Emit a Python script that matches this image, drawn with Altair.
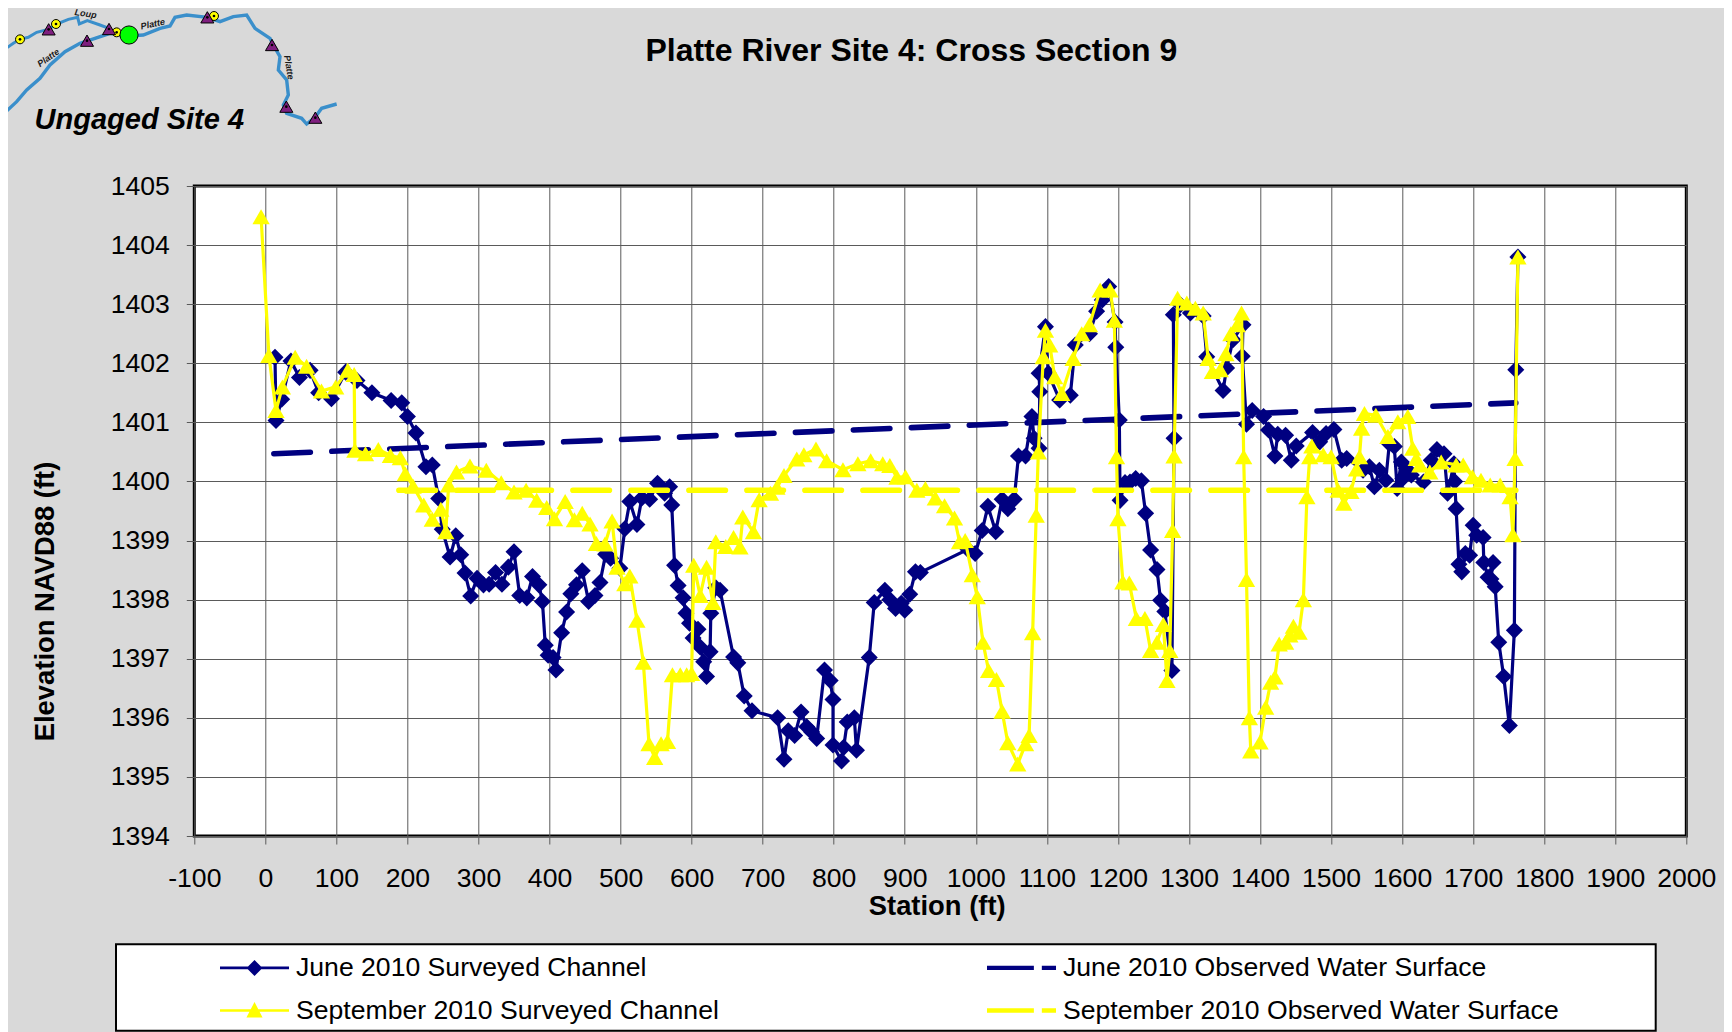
import altair as alt

june_x = [13.6,15,23,36,48,63,75,93,113,129,150,177,192,200,212,226,235,244,249,260,268,275,281,289,298,307,315,324,333,342,350,358,368,376,385,390,394,398,405,409,417,424,430,438,446,455,464,471,479,486,499,506,513,523,530,541,552,562,569,572,576,581,588,592,597,609,602,612,617,621,626,627,634,640,659,665,674,685,721,730,736,745,754,762,769,776,787,795,799,799,811,814,819,829,832,850,857,872,879,887,895,900,907,915,922,989,999,1009,1017,1028,1037,1045,1054,1060,1070,1079,1082,1089,1090,1089,1098,1102,1118,1133,1140,1160,1170,1178,1187,1196,1197,1202,1203,1210,1217,1225,1233,1239,1246,1255,1260,1266,1276,1279,1278,1288,1302,1320,1325,1348,1353,1362,1376,1375,1381,1389,1405,1412,1421,1425,1436,1444,1451,1474,1484,1493,1504,1515,1522,1545,1554,1561,1568,1577,1582,1589,1593,1599,1601,1606,1613,1630,1641,1649,1659,1664,1673,1674,1676,1680,1684,1689,1695,1700,1705,1714,1715,1721,1728,1725,1731,1736,1743,1751,1758,1760,1763]
june_y = [1402.1,1401.03,1401.39,1402.04,1401.76,1401.88,1401.5,1401.4,1401.85,1401.71,1401.5,1401.37,1401.33,1401.1,1400.82,1400.25,1400.28,1399.71,1399.19,1398.72,1399.08,1398.76,1398.45,1398.06,1398.36,1398.25,1398.26,1398.46,1398.26,1398.55,1398.81,1398.07,1398.03,1398.39,1398.25,1397.97,1397.23,1397.06,1397.02,1396.81,1397.44,1397.79,1398.1,1398.25,1398.49,1397.97,1398.07,1398.29,1398.77,1398.7,1398.53,1399.2,1399.66,1399.27,1399.72,1399.7,1399.97,1399.8,1399.91,1399.6,1398.58,1398.24,1398.03,1397.77,1397.6,1397.5,1397.35,1397.2,1396.95,1396.7,1397.12,1397.77,1398.2,1398.16,1397.03,1396.93,1396.37,1396.12,1396.0,1395.3,1395.78,1395.7,1396.1,1395.85,1395.76,1395.65,1396.81,1396.63,1396.31,1395.54,1395.27,1395.5,1395.93,1396.0,1395.45,1397.02,1397.95,1398.16,1398.0,1397.85,1397.94,1397.82,1398.09,1398.47,1398.46,1398.85,1398.78,1399.17,1399.58,1399.15,1399.7,1399.54,1399.7,1400.43,1400.43,1401.1,1400.73,1400.56,1401.52,1401.83,1402.62,1401.83,1401.38,1401.46,1402.31,1402.5,1402.88,1403.07,1403.3,1402.7,1402.27,1401.04,1399.68,1399.98,1399.99,1400.05,1400.01,1399.46,1398.84,1398.51,1397.99,1397.8,1396.8,1400.73,1402.82,1402.99,1402.85,1402.8,1402.11,1401.54,1401.92,1402.4,1402.65,1402.12,1400.97,1401.2,1401.1,1400.87,1400.43,1400.8,1400.78,1400.36,1400.6,1400.83,1400.67,1400.81,1400.88,1400.36,1400.39,1400.19,1400.25,1399.91,1400.19,1400.02,1400.64,1400.59,1399.88,1400.33,1400.05,1400.22,1400.11,1399.99,1400.36,1400.54,1400.47,1399.8,1400.3,1400.0,1399.54,1398.6,1398.47,1398.78,1398.75,1399.26,1399.09,1399.05,1398.63,1398.38,1398.63,1398.35,1398.22,1397.28,1396.7,1395.87,1397.48,1401.89,1403.8]

sept_x = [-6,5,15,24,42,58,79,99,116,125,126,141,159,176,190,197,208,223,235,247,254,258,269,288,311,332,350,367,382,396,407,422,435,446,457,466,478,488,495,506,513,523,532,540,548,557,566,573,584,593,600,603,612,621,630,634,648,659,668,672,687,695,711,720,730,748,758,775,790,813,834,852,869,879,889,901,917,929,943,956,970,977,985,995,1002,1010,1018,1029,1037,1045,1059,1070,1075,1080,1085,1088,1095,1098,1104,1111,1121,1137,1149,1160,1175,1189,1195,1198,1200,1207,1216,1226,1238,1246,1255,1264,1269,1273,1277,1279,1284,1297,1309,1320,1327,1333,1344,1352,1359,1368,1374,1377,1381,1385,1387,1400,1408,1415,1421,1427,1436,1442,1447,1455,1461,1466,1470,1473,1489,1500,1510,1518,1528,1536,1540,1543,1547,1563,1580,1594,1608,1615,1620,1625,1639,1655,1676,1686,1699,1711,1724,1738,1752,1756,1759,1763]
sept_y = [1404.48,1402.13,1401.2,1401.6,1402.1,1401.95,1401.53,1401.6,1401.88,1401.81,1400.53,1400.47,1400.54,1400.44,1400.4,1400.13,1399.92,1399.6,1399.36,1399.53,1399.15,1399.94,1400.16,1400.26,1400.19,1399.98,1399.82,1399.85,1399.68,1399.56,1399.37,1399.66,1399.35,1399.46,1399.28,1398.95,1398.94,1399.33,1398.55,1398.27,1398.4,1397.65,1396.94,1395.56,1395.33,1395.56,1395.6,1396.73,1396.73,1396.73,1396.75,1398.58,1398.07,1398.55,1397.95,1398.98,1398.9,1399.05,1398.89,1399.4,1399.15,1399.69,1399.8,1399.9,1400.1,1400.38,1400.45,1400.55,1400.35,1400.2,1400.3,1400.35,1400.3,1400.27,1400.07,1400.08,1399.85,1399.88,1399.72,1399.59,1399.38,1398.98,1399.0,1398.42,1398.05,1397.28,1396.8,1396.65,1396.11,1395.58,1395.22,1395.56,1395.7,1397.44,1399.43,1400.5,1402.11,1402.56,1402.31,1401.77,1401.49,1402.08,1402.5,1402.65,1403.24,1403.24,1402.73,1400.42,1399.37,1398.3,1398.28,1397.68,1397.68,1397.14,1397.28,1397.58,1396.63,1397.14,1399.17,1400.43,1403.1,1403.02,1402.93,1402.85,1402.08,1401.86,1401.89,1402.16,1402.5,1402.65,1402.85,1400.42,1398.34,1396.0,1395.44,1395.59,1396.18,1396.6,1396.69,1397.25,1397.28,1397.4,1397.55,1397.45,1398.0,1399.74,1400.42,1400.6,1400.45,1400.42,1399.85,1399.63,1399.83,1400.21,1400.42,1400.9,1401.15,1401.12,1400.76,1401.01,1401.1,1400.56,1400.39,1400.28,1400.16,1400.33,1400.28,1400.28,1400.08,1400.02,1399.94,1399.94,1399.74,1399.1,1400.39,1403.8]

june_ws_x = [12, 1760]
june_ws_y = [1400.47, 1401.33]
sept_ws_x = [188, 1760]
sept_ws_y = [1399.85, 1399.85]

x_ticks = list(range(-100, 2001, 100))
y_ticks = list(range(1394, 1406))

series_names = ["June 2010 Surveyed Channel", "September 2010 Surveyed Channel",
                "June 2010 Observed Water Surface", "September 2010 Observed Water Surface"]
series_colors = ["#000080", "#ffff00", "#000080", "#ffff00"]

# inset map, in hundredths of the map picture (3x its pixels)
loup_mx = [18,40,60,85,110,145,170,205,233,238,262,300,327]
loup_my = [145,130,118,112,97,88,72,58,52,72,62,75,85]
platte_mx = [18,50,80,120,150,195,240,285,330,385,430,480,510,525,560,622,660,700,740,765,810,820,840,835,860,865,850,860,905,920,945,965,1010]
platte_my = [335,305,270,235,195,155,130,115,100,108,105,85,78,52,45,52,65,50,45,85,115,135,170,210,240,285,315,340,355,372,352,325,312]
gauge_mx = [146,261,327,622,816,859,946]
gauge_my = [88,122,87,52,135,320,353]
yellow_mx = [60,168,350,642]
yellow_my = [118,72,97,48]
site_mx, site_my = [387], [105]
map_labels = ["Loup", "Platte", "Platte", "Platte"]
map_label_mx = [257, 145, 458, 867]
map_label_my = [41, 173, 72, 202]
map_label_angle = [8, 325, 348, 80]

PLOT_L, PLOT_T, PLOT_W, PLOT_H = 194.3, 186.0, 1492.0, 650.0
FONT = "Liberation Sans"
FS = 26.6

def mx(v):
    return (v / 3 - PLOT_L) * 2100 / PLOT_W - 100
def my(v):
    return 1405 - (v / 3 - PLOT_T) * 11 / PLOT_H

XS = alt.X("x:Q", scale=alt.Scale(domain=[-100, 2000], nice=False, zero=False),
           axis=alt.Axis(values=x_ticks, labelExpr="toString(datum.value)", title="Station (ft)", grid=True,
                         gridColor="#5a5a5a", gridWidth=1, tickColor="#5a5a5a", tickWidth=1, tickSize=8,
                         domain=False, labelFont=FONT, labelFontSize=FS, labelColor="#000000",
                         labelPadding=21, labelOverlap=False, labelFlush=False, titleFont=FONT, titleFontSize=27.4,
                         titleFontWeight="bold", titleColor="#000000", titleX=742.4, titleY=70,
                         titleBaseline="middle", titleAlign="center", titleAnchor="start"))
YS = alt.Y("y:Q", scale=alt.Scale(domain=[1394, 1405], nice=False, zero=False),
           axis=alt.Axis(values=y_ticks, format="d", title="Elevation NAVD88 (ft)", grid=True,
                         gridColor="#5a5a5a", gridWidth=1, tickColor="#5a5a5a", tickWidth=1, tickSize=8,
                         domain=False, labelFont=FONT, labelFontSize=FS, labelColor="#000000",
                         labelPadding=17, labelOverlap=False, titleFont=FONT, titleFontSize=27.4,
                         titleFontWeight="bold", titleColor="#000000", titleX=-149, titleY=415,
                         titleAngle=270, titleBaseline="middle", titleAlign="center", titleAnchor="start"))

def rows(xs, ys):
    return alt.Data(values=[{"x": a, "y": b, "i": k} for k, (a, b) in enumerate(zip(xs, ys))])

def line(xs, ys, color, width, **kw):
    return alt.Chart(rows(xs, ys)).mark_line(color=color, strokeWidth=width, **kw).encode(
        x=XS, y=YS, order="i:Q")

def pts(xs, ys, shape, color, size, **kw):
    return alt.Chart(rows(xs, ys)).mark_point(shape=shape, filled=True, color=color, size=size, opacity=1, **kw).encode(
        x=XS, y=YS)

# legend: native legend carried by an empty layer with symbols holding line + marker
S = "M-1,-.0625H2.21V.0625H-1Z"
DIA = "M.605,-.37L.975,0L.605,.37L.235,0Z"
TRI = "M.605,-.40L.98,.33H.23Z"
D1 = "M-1,-.1H1.18V.1H-1Z"
D2 = "M1.55,-.1H2.21V.1H1.55Z"
legend_shapes = [S + DIA, S + TRI, D1 + D2, D1 + D2]
leg = alt.Legend(title=None, orient="none", legendX=25.7, legendY=760, columns=2, direction="vertical",
                 symbolSize=1849, labelFont=FONT, labelFontSize=FS, labelColor="#000000", labelLimit=700,
                 labelOffset=33, rowPadding=7, columnPadding=268, padding=0, symbolOpacity=1, symbolStrokeWidth=0,
                 zindex=1)
legend_layer = alt.Chart(alt.Data(values=[{"x": None, "y": None, "s": n} for n in series_names])).mark_point(
    filled=True, opacity=1, size=1849).encode(
    x=XS, y=YS,
    color=alt.Color("s:N", scale=alt.Scale(domain=series_names, range=series_colors), legend=leg),
    shape=alt.Shape("s:N", scale=alt.Scale(domain=series_names, range=legend_shapes), legend=leg))

legend_box = alt.Chart(alt.Data(values=[{"a": 1}])).mark_rect(
    fill="#ffffff", stroke="#000000", strokeWidth=2).encode(
    x=alt.value(116 - PLOT_L), x2=alt.value(1655.7 - PLOT_L),
    y=alt.value(944.3 - PLOT_T), y2=alt.value(1030.7 - PLOT_T))

# map inset
map_layers = [
    line([mx(v) for v in loup_mx], [my(v) for v in loup_my], "#3a8fcb", 3),
    line([mx(v) for v in platte_mx], [my(v) for v in platte_my], "#3a8fcb", 3.4),
    pts([mx(v) for v in yellow_mx], [my(v) for v in yellow_my], "circle", "#ffff00", 80, stroke="#000000", strokeWidth=1),
    pts([mx(v) for v in yellow_mx], [my(v) for v in yellow_my], "circle", "#000000", 7),
    pts([mx(v) for v in gauge_mx], [my(v) for v in gauge_my], "triangle-up", "#7f1f7f", 170, stroke="#000000", strokeWidth=1),
    pts([mx(v) for v in gauge_mx], [my(v) for v in gauge_my], "circle", "#000000", 7),
    pts([mx(v) for v in site_mx], [my(v) for v in site_my], "circle", "#00ff00", 330, stroke="#000000", strokeWidth=1),
]
for t, a, b, ang in zip(map_labels, map_label_mx, map_label_my, map_label_angle):
    map_layers.append(alt.Chart(alt.Data(values=[{"x": mx(a), "y": my(b), "t": t}])).mark_text(
        font=FONT, fontSize=9, fontStyle="italic", fontWeight="bold", angle=ang, color="#1a1a1a").encode(x=XS, y=YS, text="t:N"))
map_layers.append(alt.Chart(alt.Data(values=[{"x": mx(418), "y": my(361), "t": "Ungaged Site 4"}])).mark_text(
    font=FONT, fontSize=29, fontStyle="italic", fontWeight="bold", color="#000000").encode(x=XS, y=YS, text="t:N"))

chart = alt.layer(
    line(june_ws_x, june_ws_y, "#000080", 5.6, strokeDash=[36.5, 21.5], strokeCap="round"),
    line(june_x, june_y, "#000080", 3.2),
    pts(june_x, june_y, "diamond", "#000080", 290),
    line(sept_ws_x, sept_ws_y, "#ffff00", 5.6, strokeDash=[36.5, 21.5], strokeCap="round"),
    line(sept_x, sept_y, "#ffff00", 3.2),
    pts(sept_x, sept_y, "triangle-up", "#ffff00", 300),
    legend_box,
    legend_layer,
    *map_layers,
).properties(
    width=PLOT_W, height=PLOT_H,
    background="#d9d9d9",
    autosize=alt.AutoSizeParams(type="none"),
    padding={"left": PLOT_L - 8, "top": PLOT_T - 8, "right": 1716 - (PLOT_L - 8) - PLOT_W, "bottom": 1024 - (PLOT_T - 8) - PLOT_H},
    title=alt.TitleParams("Platte River Site 4: Cross Section 9", font=FONT, fontSize=32, fontWeight="bold",
                          color="#000000", anchor="middle", dx=-29, offset=-60),
).configure_view(fill="#ffffff", stroke="#000000", strokeWidth=3)

chart.save("out.html", embed_options={"renderer": "svg", "actions": False})
